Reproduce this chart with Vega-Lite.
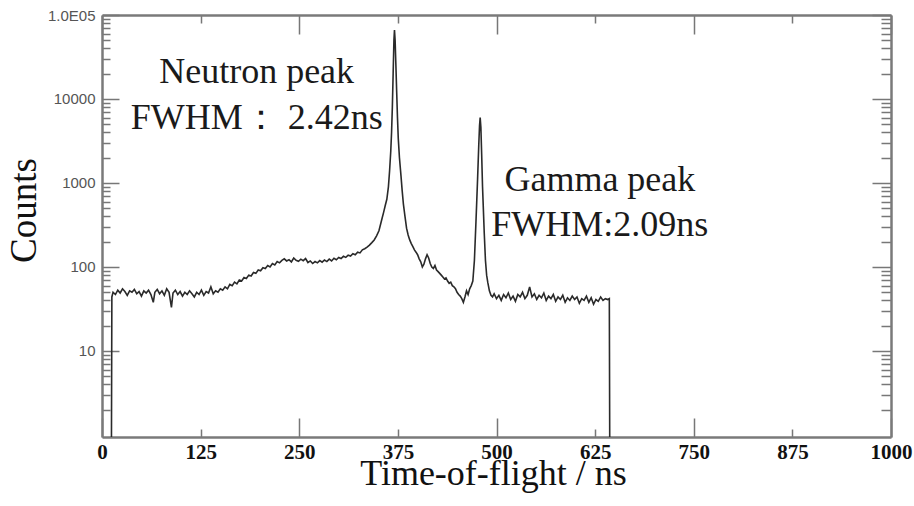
{
  "$schema": "https://vega.github.io/schema/vega-lite/v6.json",
  "width": 789,
  "height": 422,
  "autosize": {"type": "none"},
  "padding": {"left": 102, "top": 15, "right": 23, "bottom": 69},
  "background": "white",
  "view": {"stroke": null},
  "datasets": {
    "spectrum": [
      {"t": 12, "c": 0.946}, {"t": 12.5, "c": 44},
      {"t": 14, "c": 50}, {"t": 17, "c": 47}, {"t": 20, "c": 53}, {"t": 23, "c": 49}, {"t": 26, "c": 55},
      {"t": 29, "c": 51}, {"t": 32, "c": 46}, {"t": 35, "c": 52}, {"t": 38, "c": 50}, {"t": 41, "c": 54},
      {"t": 44, "c": 48}, {"t": 47, "c": 51}, {"t": 50, "c": 45}, {"t": 53, "c": 52}, {"t": 56, "c": 49},
      {"t": 59, "c": 53}, {"t": 62, "c": 47}, {"t": 65, "c": 38}, {"t": 67, "c": 50}, {"t": 70, "c": 54},
      {"t": 73, "c": 48}, {"t": 76, "c": 52}, {"t": 79, "c": 46}, {"t": 82, "c": 55}, {"t": 85, "c": 50},
      {"t": 88, "c": 33}, {"t": 90, "c": 49}, {"t": 93, "c": 53}, {"t": 96, "c": 47}, {"t": 99, "c": 51},
      {"t": 102, "c": 45}, {"t": 105, "c": 50}, {"t": 108, "c": 47}, {"t": 111, "c": 52}, {"t": 114, "c": 48},
      {"t": 117, "c": 44}, {"t": 120, "c": 50}, {"t": 123, "c": 47}, {"t": 126, "c": 53}, {"t": 129, "c": 46},
      {"t": 132, "c": 51}, {"t": 135, "c": 49}, {"t": 138, "c": 58}, {"t": 141, "c": 48}, {"t": 144, "c": 52},
      {"t": 147, "c": 50}, {"t": 150, "c": 55}, {"t": 153, "c": 53}, {"t": 156, "c": 58}, {"t": 159, "c": 55},
      {"t": 162, "c": 62}, {"t": 165, "c": 60}, {"t": 168, "c": 66}, {"t": 171, "c": 63}, {"t": 174, "c": 70},
      {"t": 177, "c": 68}, {"t": 180, "c": 75}, {"t": 183, "c": 73}, {"t": 186, "c": 80}, {"t": 189, "c": 78},
      {"t": 192, "c": 86}, {"t": 195, "c": 84}, {"t": 198, "c": 92}, {"t": 201, "c": 90}, {"t": 204, "c": 98},
      {"t": 207, "c": 96}, {"t": 210, "c": 104}, {"t": 213, "c": 100}, {"t": 216, "c": 110}, {"t": 219, "c": 106},
      {"t": 222, "c": 116}, {"t": 225, "c": 112}, {"t": 228, "c": 120}, {"t": 231, "c": 125}, {"t": 234, "c": 118},
      {"t": 237, "c": 122}, {"t": 240, "c": 115}, {"t": 243, "c": 128}, {"t": 246, "c": 120}, {"t": 249, "c": 117},
      {"t": 252, "c": 124}, {"t": 255, "c": 119}, {"t": 258, "c": 126}, {"t": 261, "c": 113}, {"t": 264, "c": 118},
      {"t": 267, "c": 110}, {"t": 270, "c": 116}, {"t": 273, "c": 112}, {"t": 276, "c": 119}, {"t": 279, "c": 114},
      {"t": 282, "c": 121}, {"t": 285, "c": 116}, {"t": 288, "c": 124}, {"t": 291, "c": 118}, {"t": 294, "c": 127},
      {"t": 297, "c": 122}, {"t": 300, "c": 130}, {"t": 303, "c": 126}, {"t": 306, "c": 134}, {"t": 309, "c": 130},
      {"t": 312, "c": 138}, {"t": 315, "c": 135}, {"t": 318, "c": 144}, {"t": 321, "c": 140}, {"t": 324, "c": 150},
      {"t": 327, "c": 147}, {"t": 330, "c": 160}, {"t": 333, "c": 165}, {"t": 336, "c": 172}, {"t": 339, "c": 182},
      {"t": 342, "c": 195}, {"t": 345, "c": 210}, {"t": 348, "c": 235}, {"t": 351, "c": 270}, {"t": 353, "c": 320},
      {"t": 355, "c": 380}, {"t": 357, "c": 450}, {"t": 359, "c": 540}, {"t": 361, "c": 640}, {"t": 363, "c": 900},
      {"t": 364.5, "c": 1400}, {"t": 366, "c": 2400}, {"t": 367, "c": 4000}, {"t": 368, "c": 8000}, {"t": 369, "c": 20000},
      {"t": 370, "c": 50000}, {"t": 370.7, "c": 66000}, {"t": 371.5, "c": 50000}, {"t": 372.5, "c": 25000},
      {"t": 373.5, "c": 12000}, {"t": 374.5, "c": 6000}, {"t": 375.5, "c": 3400}, {"t": 377, "c": 2000},
      {"t": 379, "c": 1200}, {"t": 380.5, "c": 800}, {"t": 382, "c": 560}, {"t": 384, "c": 400}, {"t": 386, "c": 290},
      {"t": 388, "c": 240}, {"t": 390, "c": 210}, {"t": 392, "c": 190}, {"t": 394, "c": 175}, {"t": 396, "c": 160},
      {"t": 398, "c": 150}, {"t": 400, "c": 140}, {"t": 402, "c": 125}, {"t": 404, "c": 115}, {"t": 406, "c": 100},
      {"t": 408, "c": 108}, {"t": 410, "c": 125}, {"t": 412, "c": 140}, {"t": 414, "c": 128}, {"t": 416, "c": 110},
      {"t": 418, "c": 100}, {"t": 420, "c": 96}, {"t": 422, "c": 104}, {"t": 424, "c": 92}, {"t": 426, "c": 88},
      {"t": 428, "c": 84}, {"t": 430, "c": 80}, {"t": 432, "c": 76}, {"t": 434, "c": 72}, {"t": 436, "c": 74},
      {"t": 438, "c": 68}, {"t": 440, "c": 64}, {"t": 442, "c": 66}, {"t": 444, "c": 60}, {"t": 446, "c": 58},
      {"t": 448, "c": 55}, {"t": 450, "c": 50}, {"t": 452, "c": 47}, {"t": 454, "c": 45}, {"t": 456, "c": 42},
      {"t": 458, "c": 38}, {"t": 460, "c": 44}, {"t": 462, "c": 52}, {"t": 464, "c": 47}, {"t": 466, "c": 55},
      {"t": 468, "c": 60}, {"t": 470, "c": 68}, {"t": 472, "c": 120}, {"t": 474, "c": 350}, {"t": 475, "c": 620},
      {"t": 476, "c": 1100}, {"t": 477.5, "c": 2800}, {"t": 478.5, "c": 4800}, {"t": 479.3, "c": 6000},
      {"t": 480.2, "c": 4600}, {"t": 481.2, "c": 2200}, {"t": 482.3, "c": 900}, {"t": 483, "c": 600},
      {"t": 484.5, "c": 250}, {"t": 486, "c": 120}, {"t": 487.5, "c": 80}, {"t": 489, "c": 65}, {"t": 491, "c": 52},
      {"t": 493, "c": 46}, {"t": 495, "c": 44}, {"t": 497, "c": 48}, {"t": 500, "c": 42}, {"t": 503, "c": 46},
      {"t": 506, "c": 40}, {"t": 509, "c": 47}, {"t": 512, "c": 43}, {"t": 515, "c": 49}, {"t": 518, "c": 41},
      {"t": 521, "c": 45}, {"t": 524, "c": 39}, {"t": 527, "c": 47}, {"t": 530, "c": 44}, {"t": 533, "c": 50},
      {"t": 536, "c": 42}, {"t": 539, "c": 46}, {"t": 542, "c": 58}, {"t": 545, "c": 44}, {"t": 548, "c": 48},
      {"t": 551, "c": 41}, {"t": 554, "c": 46}, {"t": 557, "c": 43}, {"t": 560, "c": 49}, {"t": 563, "c": 40},
      {"t": 566, "c": 45}, {"t": 569, "c": 42}, {"t": 572, "c": 47}, {"t": 575, "c": 39}, {"t": 578, "c": 44},
      {"t": 581, "c": 41}, {"t": 584, "c": 46}, {"t": 587, "c": 38}, {"t": 590, "c": 43}, {"t": 593, "c": 40},
      {"t": 596, "c": 45}, {"t": 599, "c": 41}, {"t": 602, "c": 44}, {"t": 605, "c": 37}, {"t": 608, "c": 42},
      {"t": 611, "c": 40}, {"t": 614, "c": 45}, {"t": 617, "c": 38}, {"t": 620, "c": 43}, {"t": 623, "c": 36},
      {"t": 626, "c": 41}, {"t": 629, "c": 39}, {"t": 632, "c": 44}, {"t": 635, "c": 40}, {"t": 638, "c": 42},
      {"t": 641, "c": 41}, {"t": 643, "c": 42}, {"t": 643.5, "c": 0.946}
    ],
    "notes": [
      {"t": 196, "c": 15500, "label": "Neutron peak"},
      {"t": 196, "c": 4400, "label": "FWHM： 2.42ns"},
      {"t": 631, "c": 803, "label": "Gamma peak"},
      {"t": 631, "c": 234, "label": "FWHM:2.09ns"}
    ]
  },
  "layer": [
    {
      "data": {"name": "spectrum"},
      "mark": {"type": "line", "color": "#2a2a2a", "strokeWidth": 1.6, "clip": true, "interpolate": "linear"},
      "encoding": {
        "x": {
          "field": "t", "type": "quantitative",
          "scale": {"domain": [0, 1000], "nice": false, "zero": false},
          "axis": {
            "orient": "bottom",
            "values": [0, 125, 250, 375, 500, 625, 750, 875, 1000],
            "labelExpr": "'' + datum.value",
            "title": "Time-of-flight / ns",
            "grid": false,
            "labelFont": "Liberation Serif", "labelFontWeight": "bold", "labelFontSize": 21, "labelColor": "#111111",
            "labelPadding": {"condition": {"test": "datum.value % 250 == 0", "value": 23}, "value": 12},
            "labelFlush": false, "labelOverlap": false,
            "tickSize": {"condition": {"test": "datum.value % 250 == 0", "value": -19}, "value": -8},
            "tickColor": "#777777", "tickWidth": 1.5,
            "domainColor": "#7a7a7a", "domainWidth": 2.5,
            "titleFont": "Liberation Serif", "titleFontSize": 36, "titleFontWeight": "normal", "titleColor": "#111111",
            "titleBaseline": "alphabetic", "titleX": 391, "titleY": 47, "titleAnchor": null, "titleAlign": "center"
          }
        },
        "y": {
          "field": "c", "type": "quantitative",
          "scale": {"type": "log", "domain": [0.946, 100000], "nice": false},
          "axis": {
            "orient": "left",
            "values": [2,3,4,5,6,7,8,9,10,20,30,40,50,60,70,80,90,100,200,300,400,500,600,700,800,900,1000,2000,3000,4000,5000,6000,7000,8000,9000,10000,20000,30000,40000,50000,60000,70000,80000,90000,100000],
            "labelExpr": "datum.value == 100000 ? '1.0E05' : (indexof([10,100,1000,10000], datum.value) >= 0 ? '' + datum.value : '')",
            "title": "Counts",
            "grid": false,
            "labelFont": "Liberation Sans", "labelFontSize": 15, "labelColor": "#555555",
            "labelPadding": {"condition": {"test": "indexof([10,100,1000,10000,100000], datum.value) >= 0", "value": 24}, "value": 15},
            "labelFlush": false, "labelOverlap": false,
            "tickSize": {"condition": {"test": "indexof([10,100,1000,10000,100000], datum.value) >= 0", "value": -17}, "value": -8},
            "tickColor": "#777777", "tickWidth": 1.5,
            "domainColor": "#7a7a7a", "domainWidth": 2.5,
            "titleFont": "Liberation Serif", "titleFontSize": 37, "titleFontWeight": "normal", "titleColor": "#111111",
            "titleAngle": -90, "titleBaseline": "alphabetic", "titleX": -67, "titleY": 195, "titleAlign": "center"
          }
        }
      }
    },
    {
      "data": {"name": "notes"},
      "mark": {"type": "text", "font": "Liberation Serif", "fontSize": 36, "color": "#1a1a1a", "align": "center", "baseline": "alphabetic"},
      "encoding": {
        "x": {
          "field": "t", "type": "quantitative",
          "scale": {"domain": [0, 1000], "nice": false, "zero": false},
          "axis": {
            "orient": "top", "values": [0, 125, 250, 375, 500, 625, 750, 875, 1000],
            "labels": false, "title": null, "grid": false,
            "tickSize": {"condition": {"test": "datum.value % 250 == 0", "value": -19}, "value": -8},
            "tickColor": "#777777", "tickWidth": 1.5,
            "domainColor": "#7a7a7a", "domainWidth": 2.5
          }
        },
        "y": {
          "field": "c", "type": "quantitative",
          "scale": {"type": "log", "domain": [0.946, 100000], "nice": false},
          "axis": {
            "orient": "right",
            "values": [2,3,4,5,6,7,8,9,10,20,30,40,50,60,70,80,90,100,200,300,400,500,600,700,800,900,1000,2000,3000,4000,5000,6000,7000,8000,9000,10000,20000,30000,40000,50000,60000,70000,80000,90000,100000],
            "labels": false, "title": null, "grid": false,
            "tickSize": {"condition": {"test": "indexof([10,100,1000,10000,100000], datum.value) >= 0", "value": -19}, "value": -10},
            "tickColor": "#777777", "tickWidth": 1.5,
            "domainColor": "#7a7a7a", "domainWidth": 2.5
          }
        },
        "text": {"field": "label", "type": "nominal"}
      }
    }
  ],
  "resolve": {"axis": {"x": "independent", "y": "independent"}}
}
